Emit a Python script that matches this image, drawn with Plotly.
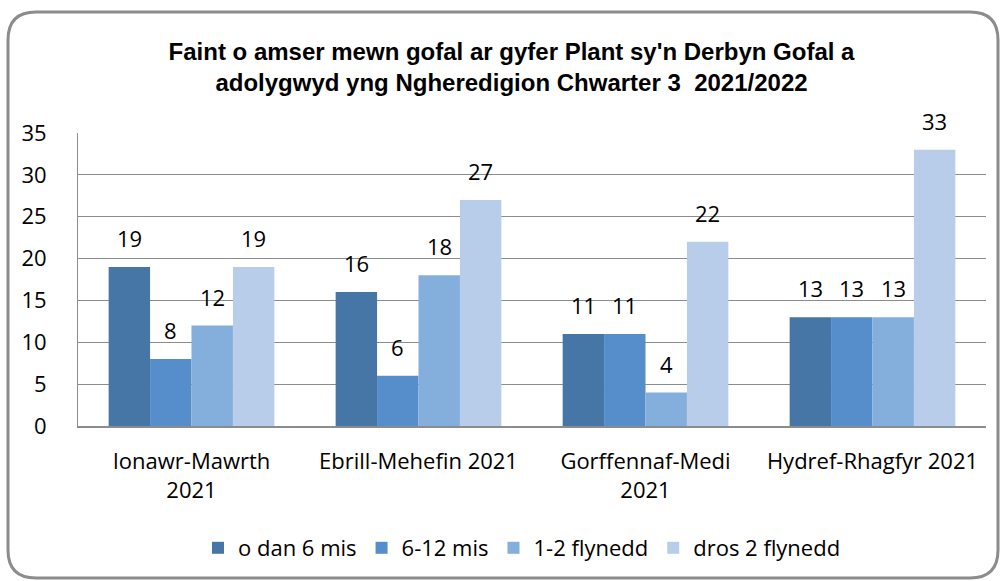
import plotly.graph_objects as go

categories = ["Ionawr-Mawrth<br>2021", "Ebrill-Mehefin 2021", "Gorffennaf-Medi<br>2021", "Hydref-Rhagfyr 2021"]
series_names = ["o dan 6 mis", "6-12 mis", "1-2 flynedd", "dros 2 flynedd"]
o_dan_6 = [19, 16, 11, 13]
mis_6_12 = [8, 6, 11, 13]
flynedd_1_2 = [12, 18, 4, 13]
dros_2 = [19, 27, 22, 33]
colors = ["#4676A5", "#558ECB", "#84AEDC", "#B8CDE9"]

W, H = 1001, 581
L, R, T, B = 78, 15, 133, 155
pw, ph = W - L - R, H - T - B
FONT = "Open Sans, Lato, sans-serif"
FS = 22
BARGAP = 0.27

all_series = [o_dan_6, mis_6_12, flynedd_1_2, dros_2]
fig = go.Figure()
for name, vals, c in zip(series_names, all_series, colors):
    fig.add_trace(go.Bar(
        name=name, x=categories, y=vals, marker=dict(color=c, line=dict(width=0)),
    ))

# data labels above bars
cat_w = pw / len(categories)
bar_w = cat_w * (1 - BARGAP) / len(all_series)
annotations = []
for i, vals in enumerate(all_series):
    off = (i - (len(all_series) - 1) / 2) * bar_w
    for cat, v in zip(categories, vals):
        annotations.append(dict(
            x=cat, y=v, xref="x", yref="y", text=str(v), showarrow=False,
            xshift=off, yanchor="bottom", yshift=12,
            font=dict(family=FONT, size=FS, color="#000"),
        ))

def px(x):
    return (x - L) / pw

def py(y):
    return (H - B - y) / ph

# rounded border
x0, y0, x1, y1, r = 8, 12, 998, 578, 28
path = (f"M {px(x0)} {py(y0 + r)} Q {px(x0)} {py(y0)} {px(x0 + r)} {py(y0)} "
        f"L {px(x1 - r)} {py(y0)} Q {px(x1)} {py(y0)} {px(x1)} {py(y0 + r)} "
        f"L {px(x1)} {py(y1 - r)} Q {px(x1)} {py(y1)} {px(x1 - r)} {py(y1)} "
        f"L {px(x0 + r)} {py(y1)} Q {px(x0)} {py(y1)} {px(x0)} {py(y1 - r)} Z")

fig.update_layout(
    width=W, height=H,
    margin=dict(l=L, r=R, t=T, b=B),
    paper_bgcolor="white", plot_bgcolor="white",
    barmode="group", bargap=BARGAP, bargroupgap=0,
    title=dict(
        text="Faint o amser mewn gofal ar gyfer Plant sy'n Derbyn Gofal a<br>adolygwyd yng Ngheredigion Chwarter 3  2021/2022",
        x=0.511, xanchor="center", y=0.897, yanchor="top",
        font=dict(family="Liberation Sans, Arial, sans-serif", size=24, color="#000", weight="bold"),
    ),
    xaxis=dict(
        showline=True, linecolor="#8c8c8c", linewidth=1.5,
        tickfont=dict(family=FONT, size=FS, color="#000"),
        ticks="", ticklabelstandoff=15,
    ),
    yaxis=dict(
        range=[0, 35], dtick=5, showgrid=True, gridcolor="#8c8c8c", gridwidth=1,
        showline=True, linecolor="#8c8c8c", linewidth=1, zeroline=False,
        tickfont=dict(family=FONT, size=FS, color="#000"),
        ticks="", ticklabelstandoff=26,
    ),
    legend=dict(
        orientation="h", x=0.489, xanchor="center", y=py(548), yanchor="middle",
        font=dict(family=FONT, size=FS, color="#000"),
        itemwidth=30, traceorder="normal",
    ),
    annotations=annotations,
    shapes=[dict(type="path", path=path, xref="paper", yref="paper",
                 line=dict(color="#8c8c8c", width=3), fillcolor="rgba(0,0,0,0)", layer="below")],
    showlegend=True,
)

fig.write_html("out.html", config={"displayModeBar": False},
               post_script="document.body.style.margin='0';document.body.style.overflow='hidden';")
